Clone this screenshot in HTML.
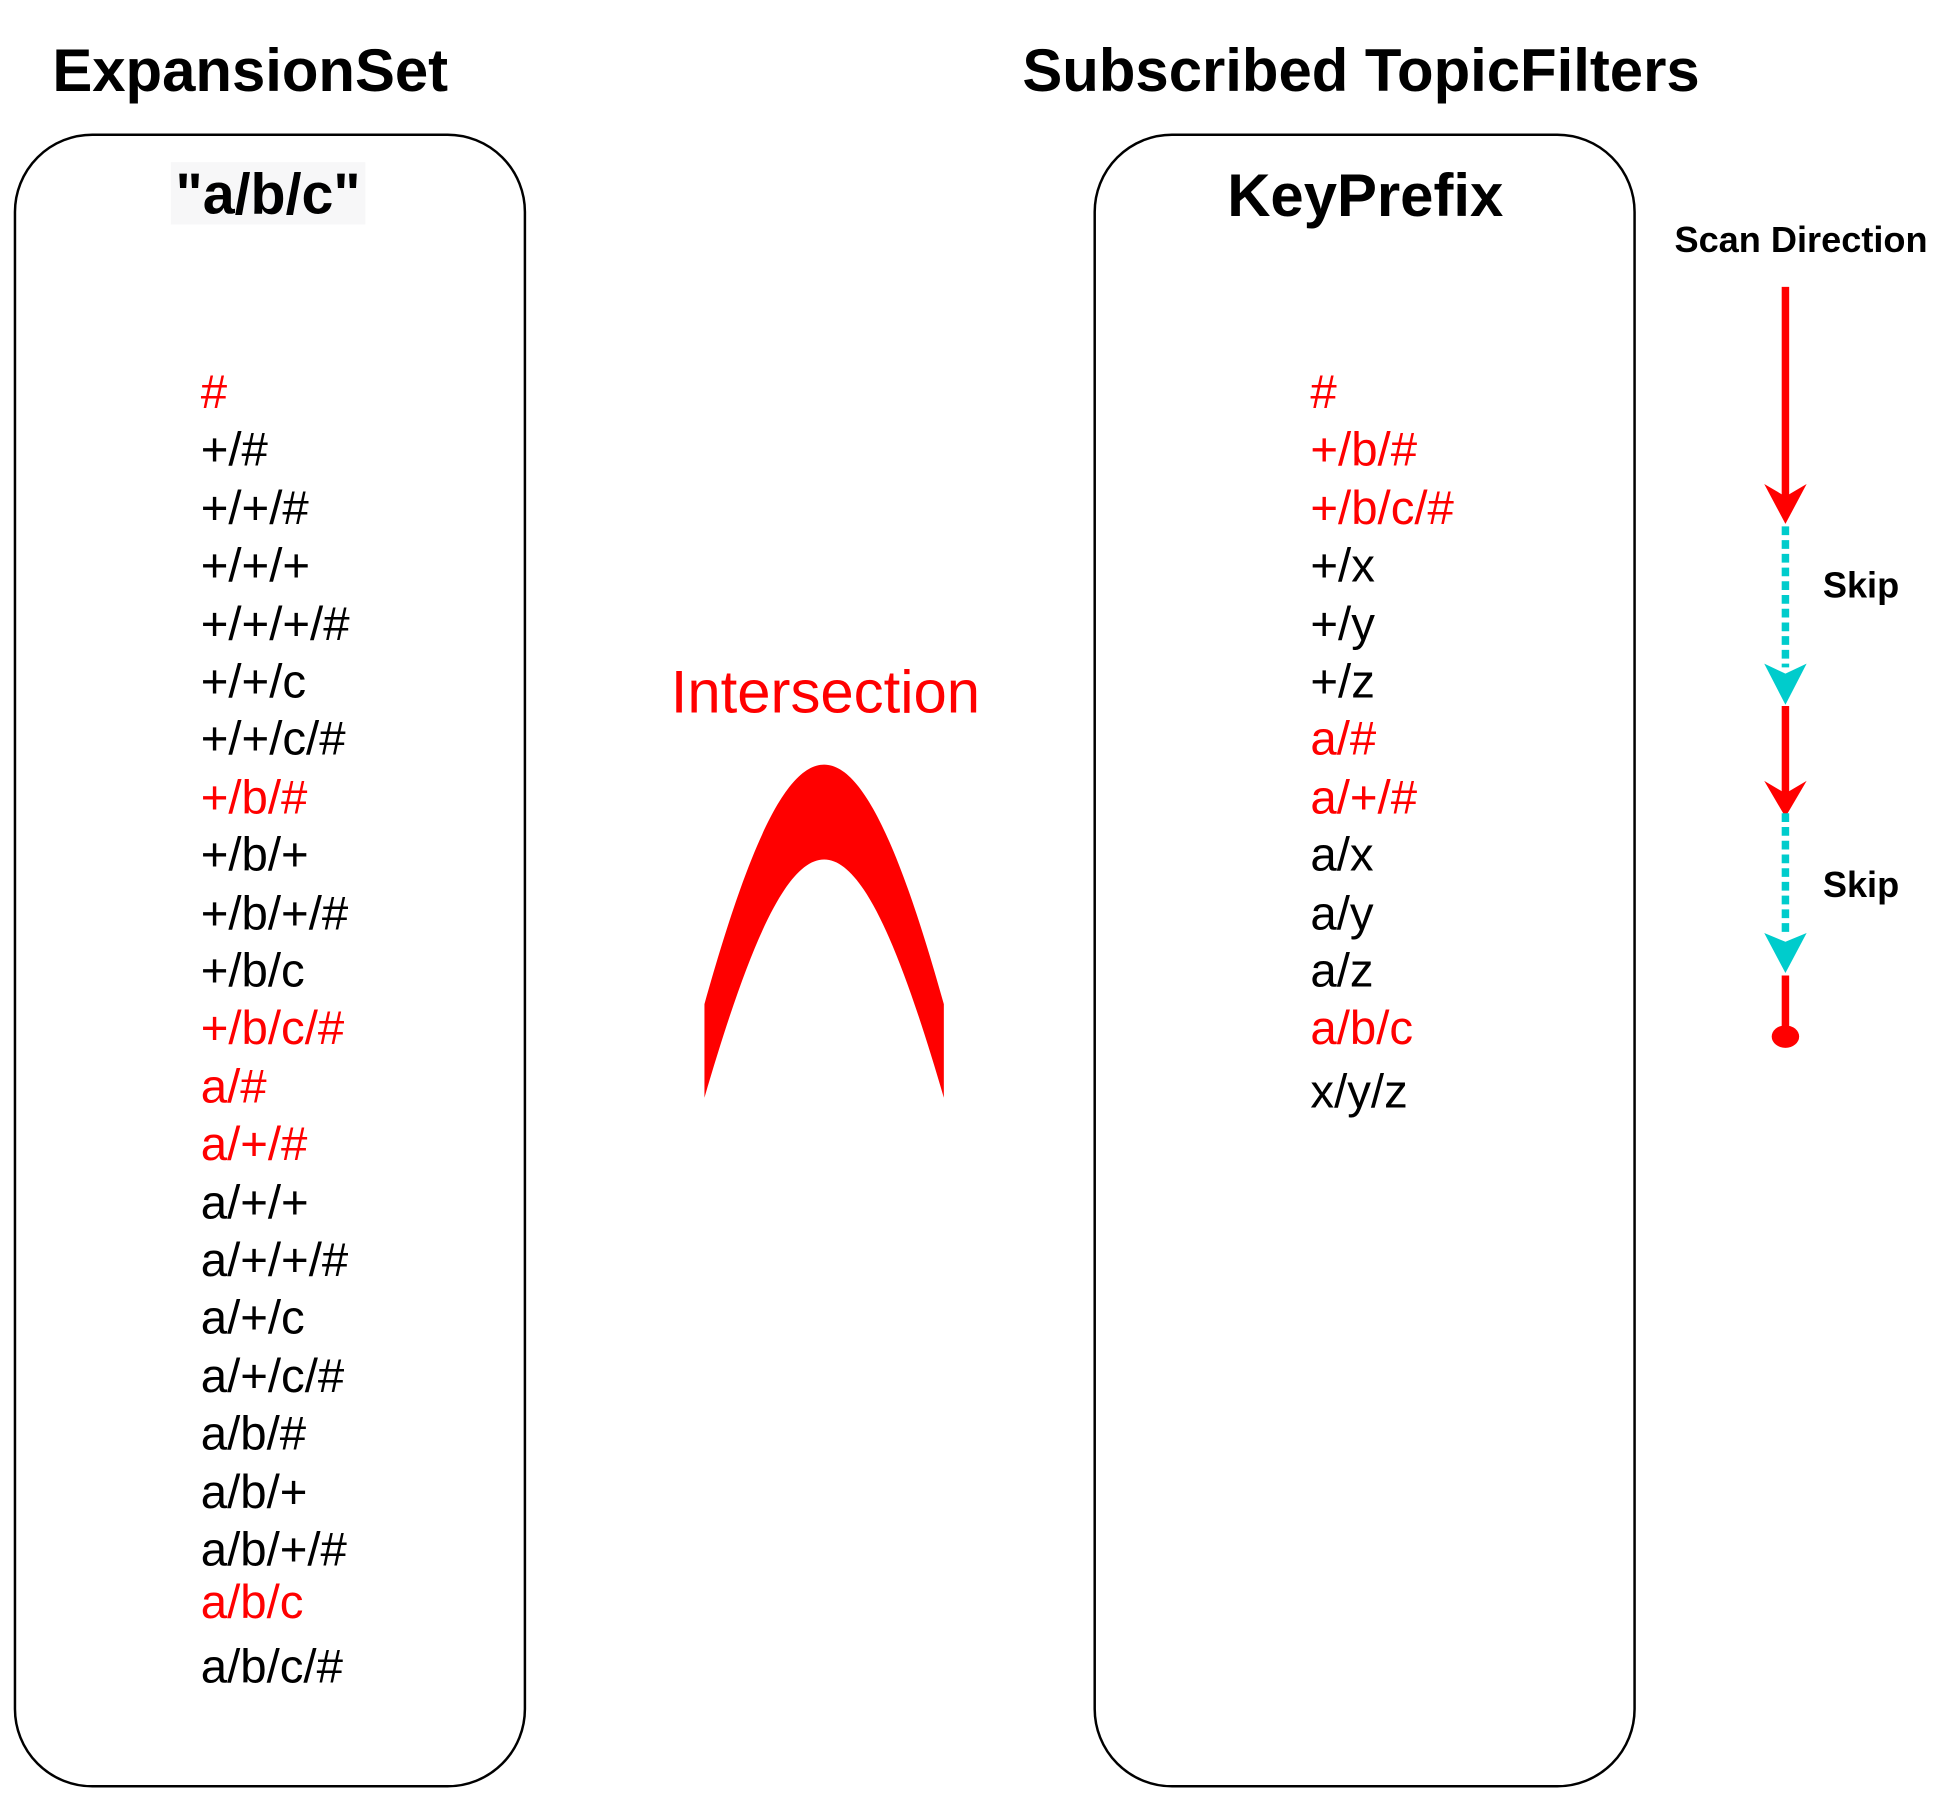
<!DOCTYPE html>
<html><head><meta charset="utf-8"><style>html,body{margin:0;padding:0;background:#fff}svg{display:block}</style></head>
<body>
<svg width="1955" height="1805" viewBox="0 0 1568 1447" preserveAspectRatio="none" xmlns="http://www.w3.org/2000/svg" font-family="Liberation Sans, Arial, sans-serif">
<rect x="0" y="0" width="1568" height="1447" fill="#fff"/>
<text x="42" y="73" font-size="48" font-weight="bold" fill="#000">ExpansionSet</text>
<text x="820" y="73" font-size="48" font-weight="bold" fill="#000">Subscribed TopicFilters</text>
<rect x="12" y="108" width="409" height="1324" rx="62" ry="62" fill="none" stroke="#000" stroke-width="2"/>
<rect x="878" y="108" width="433" height="1324" rx="62" ry="62" fill="none" stroke="#000" stroke-width="2"/>
<rect x="137" y="130" width="156" height="50" fill="#f7f7f8"/>
<text x="215" y="171" font-size="46" font-weight="bold" text-anchor="middle" fill="#000">"a/b/c"</text>
<text x="1095" y="173" font-size="48" font-weight="bold" text-anchor="middle" fill="#000">KeyPrefix</text>
<g font-size="38">
<text x="161" y="327" fill="#f00">#</text>
<text x="161" y="373">+/#</text>
<text x="161" y="420">+/+/#</text>
<text x="161" y="466">+/+/+</text>
<text x="161" y="513">+/+/+/#</text>
<text x="161" y="559">+/+/c</text>
<text x="161" y="605">+/+/c/#</text>
<text x="161" y="652" fill="#f00">+/b/#</text>
<text x="161" y="698">+/b/+</text>
<text x="161" y="745">+/b/+/#</text>
<text x="161" y="791">+/b/c</text>
<text x="161" y="837" fill="#f00">+/b/c/#</text>
<text x="161" y="884" fill="#f00">a/#</text>
<text x="161" y="930" fill="#f00">a/+/#</text>
<text x="161" y="977">a/+/+</text>
<text x="161" y="1023">a/+/+/#</text>
<text x="161" y="1069">a/+/c</text>
<text x="161" y="1116">a/+/c/#</text>
<text x="161" y="1162">a/b/#</text>
<text x="161" y="1209">a/b/+</text>
<text x="161" y="1255">a/b/+/#</text>
<text x="161" y="1297" fill="#f00">a/b/c</text>
<text x="161" y="1349">a/b/c/#</text>

<text x="1051" y="327" fill="#f00">#</text>
<text x="1051" y="373" fill="#f00">+/b/#</text>
<text x="1051" y="420" fill="#f00">+/b/c/#</text>
<text x="1051" y="466">+/x</text>
<text x="1051" y="513">+/y</text>
<text x="1051" y="559">+/z</text>
<text x="1051" y="605" fill="#f00">a/#</text>
<text x="1051" y="652" fill="#f00">a/+/#</text>
<text x="1051" y="698">a/x</text>
<text x="1051" y="745">a/y</text>
<text x="1051" y="791">a/z</text>
<text x="1051" y="837" fill="#f00">a/b/c</text>
<text x="1051" y="888">x/y/z</text>
</g>
<text x="662" y="571" font-size="48" text-anchor="middle" fill="#f00">Intersection</text>
<path d="M565,805 C600,680 630,613 661,613 C692,613 722,680 757,805 L757,880 C722,760 692,689 661,689 C630,689 600,760 565,880 Z" fill="#f00"/>
<text x="1343" y="202" font-size="29" font-weight="bold">Scan Direction</text>
<text x="1462" y="479" font-size="29" font-weight="bold">Skip</text>
<text x="1462" y="719" font-size="29" font-weight="bold">Skip</text>
<g>
<line x1="1432" y1="230" x2="1432" y2="400" stroke="#f00" stroke-width="6"/>
<polygon points="1415,388 1432,420 1449,388 1432,398" fill="#f00"/>
<line x1="1432" y1="422" x2="1432" y2="535" stroke="#00cccc" stroke-width="6" stroke-dasharray="7,4"/>
<polygon points="1415,532 1432,565 1449,532 1432,540" fill="#00cccc"/>
<line x1="1432" y1="566" x2="1432" y2="638" stroke="#f00" stroke-width="6"/>
<polygon points="1415,626 1432,655 1449,626 1432,636" fill="#f00"/>
<line x1="1432" y1="652" x2="1432" y2="750" stroke="#00cccc" stroke-width="6" stroke-dasharray="7,4"/>
<polygon points="1415,748 1432,780 1449,748 1432,755" fill="#00cccc"/>
<line x1="1432" y1="782" x2="1432" y2="828" stroke="#f00" stroke-width="6"/>
<ellipse cx="1432" cy="831" rx="11" ry="9" fill="#f00"/>
</g>
</svg>
</body></html>
